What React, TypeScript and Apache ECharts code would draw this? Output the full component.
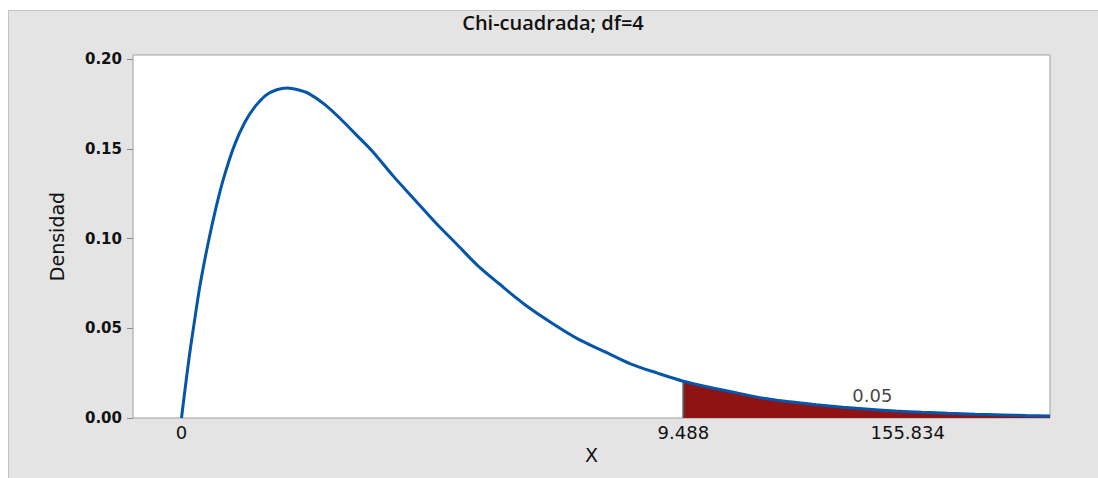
import React, { useEffect, useRef } from "react";
import * as echarts from "echarts";

// Curve (x, density)
const xValues = [
  0, 0.05, 0.15, 0.25, 0.35, 0.5, 0.65, 0.8, 1.0, 1.2, 1.4, 1.6, 1.8, 2.0, 2.2, 2.4, 2.7,
  3.0, 3.3, 3.6, 4.0, 4.4, 4.8, 5.2, 5.6, 6.0, 6.5, 7.0, 7.5, 8.0, 8.5, 9.0, 9.488,
  10, 10.5, 11, 11.5, 12, 12.5, 13, 13.5, 14, 14.5, 15, 15.5, 16, 16.42,
];
const densityValues = [
  0, 0.012, 0.035, 0.055, 0.074, 0.097, 0.117, 0.134, 0.152, 0.165, 0.174, 0.18, 0.183,
  0.184, 0.183, 0.181, 0.175, 0.167, 0.158, 0.149, 0.135, 0.122, 0.109, 0.097, 0.085,
  0.075, 0.063, 0.053, 0.044, 0.037, 0.03, 0.025, 0.0205, 0.017, 0.014, 0.011, 0.009,
  0.0074, 0.006, 0.0049, 0.0039, 0.0032, 0.0026, 0.0021, 0.0017, 0.0013, 0.0011,
];
const criticalValue = 9.488;
const tailAreaText = "0.05";
const tailAreaLabelPoint = [13.06, 0.0123];

const xTickValues = [0, 9.488, 13.73];
const xTickLabels = ["0", "9.488", "155.834"];
const xMin = -0.917;
const xMax = 16.42;
const yMin = 0;
const yMax = 0.2024;
const yInterval = 0.05;

const titleText = "Chi-cuadrada; df=4";
const xName = "X";
const yName = "Densidad";

const FONT = "DejaVu Sans";

export default function App() {
  const ref = useRef<HTMLDivElement>(null);
  useEffect(() => {
    if (!ref.current) return;
    const chart = echarts.init(ref.current, undefined, { renderer: "svg" });
    const curve = xValues.map((x, i) => [x, densityValues[i]]);
    const tail = curve.filter((p) => p[0] >= criticalValue);
    const critIdx = xValues.indexOf(criticalValue);
    const critLine = [
      [criticalValue, 0],
      [criticalValue, densityValues[critIdx]],
    ];
    chart.setOption({
      animation: false,
      backgroundColor: "#e4e4e4",
      graphic: [
        {
          type: "line",
          z: -10,
          silent: true,
          shape: { x1: 0.5, y1: 0, x2: 0.5, y2: 480 },
          style: { stroke: "#c4c4c4", lineWidth: 1 },
        },
        {
          type: "line",
          z: -10,
          silent: true,
          shape: { x1: 0, y1: 0.5, x2: 1100, y2: 0.5 },
          style: { stroke: "#c4c4c4", lineWidth: 1 },
        },
      ],
      title: {
        text: titleText,
        left: "center",
        top: 2,
        padding: 0,
        textStyle: {
          fontFamily: "Open Sans",
          fontSize: 20,
          lineHeight: 20,
          fontWeight: 600,
          color: "#111",
        },
      },
      grid: {
        left: 125,
        top: 45,
        right: 48,
        bottom: 60,
        show: true,
        backgroundColor: "#ffffff",
        borderColor: "#a0a0a0",
        borderWidth: 1,
      },
      xAxis: {
        type: "value",
        min: xMin,
        max: xMax,
        name: xName,
        nameLocation: "middle",
        nameGap: 27,
        nameTextStyle: { fontFamily: FONT, fontSize: 19, color: "#111" },
        axisLine: { show: false, onZero: false },
        axisTick: { show: false },
        splitLine: { show: false },
        axisLabel: {
          customValues: xTickValues,
          margin: 5,
          fontFamily: FONT,
          fontSize: 18,
          color: "#111",
          formatter: (v: number) => {
            let best = 0;
            xTickValues.forEach((t, i) => {
              if (Math.abs(t - v) < Math.abs(xTickValues[best] - v)) best = i;
            });
            return xTickLabels[best];
          },
        },
      },
      yAxis: {
        type: "value",
        min: yMin,
        max: yMax,
        interval: yInterval,
        name: yName,
        nameLocation: "middle",
        nameGap: 67,
        nameTextStyle: { fontFamily: FONT, fontSize: 19, fontWeight: 500, color: "#111" },
        axisLine: { show: false, onZero: false },
        axisTick: { show: true, length: 6, lineStyle: { color: "#8a8a8a" } },
        splitLine: { show: false },
        axisLabel: {
          margin: 11,
          showMaxLabel: false,
          fontFamily: FONT,
          fontSize: 15,
          fontWeight: "bold",
          color: "#111",
          formatter: (v: number) => v.toFixed(2),
        },
      },
      series: [
        {
          type: "line",
          data: tail,
          smooth: 0.3,
          symbol: "none",
          z: 1,
          lineStyle: { width: 0 },
          areaStyle: { color: "#8f1313", opacity: 1 },
        },
        {
          type: "line",
          data: critLine,
          symbol: "none",
          z: 2,
          lineStyle: { color: "#5a5a5a", width: 2 },
        },
        {
          type: "line",
          data: curve,
          smooth: 0.3,
          symbol: "none",
          z: 3,
          lineStyle: { color: "#0556a8", width: 3 },
        },
        {
          type: "scatter",
          data: [tailAreaLabelPoint],
          symbolSize: 0,
          z: 4,
          itemStyle: { color: "transparent" },
          label: {
            show: true,
            position: "inside",
            formatter: tailAreaText,
            fontFamily: FONT,
            fontSize: 18,
            color: "#111",
          },
        },
      ],
    });
    return () => chart.dispose();
  }, []);
  return (
    <div
      ref={ref}
      style={{ position: "fixed", left: 8, top: 10, width: 1090, height: 468 }}
    />
  );
}
